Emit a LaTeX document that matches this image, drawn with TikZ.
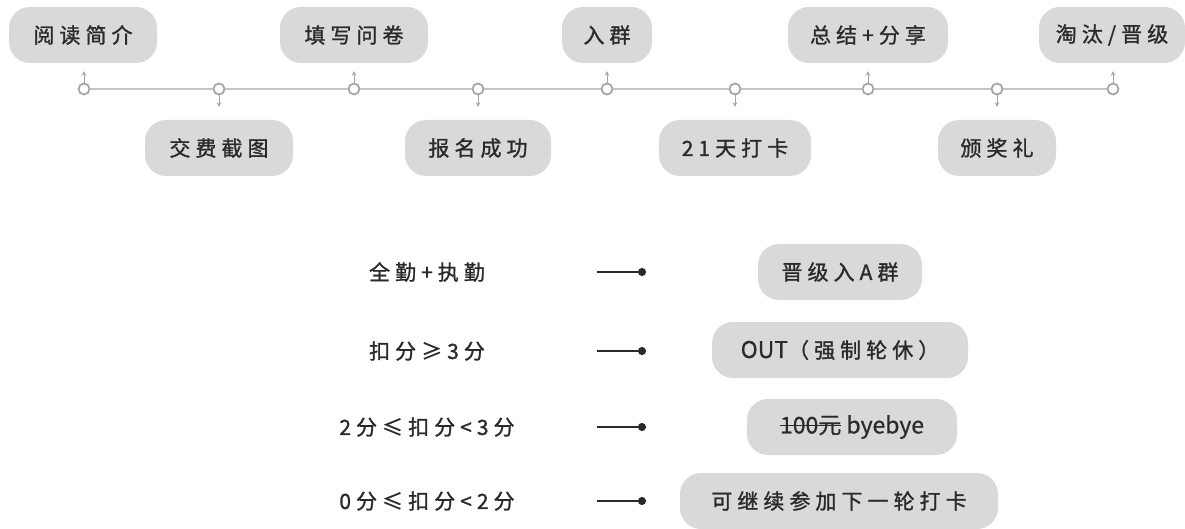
\documentclass[tikz,border=0pt]{standalone}
\usepackage{fontspec}
\usetikzlibrary{arrows.meta}
\newfontfamily\cjk[LetterSpace=24,FakeBold=1.2]{Noto Sans CJK SC}
\newfontfamily\cjkn[FakeBold=0.6]{Noto Sans CJK SC}
\definecolor{boxgray}{HTML}{D9D9D9}
\definecolor{txt}{HTML}{2A2A2A}
\definecolor{linegray}{HTML}{C4C4C4}
\definecolor{dotgray}{HTML}{A6A6A6}
\newcommand\strk[1]{\setbox0\hbox{#1}\rlap{\rule[0.33em]{\wd0}{0.8pt}}\box0\relax}
\begin{document}
\begin{tikzpicture}[x=1pt,y=-1pt,
  pill/.style={fill=boxgray, rounded corners=21pt, minimum height=56pt, inner sep=0pt,
    font=\fontsize{21}{25}\selectfont\cjk, text=txt},
  cond/.style={font=\fontsize{21}{25}\selectfont\cjk, text=txt, inner sep=0pt},
  dot/.style={circle, draw=dotgray, line width=1.8pt, fill=white, minimum size=11pt, inner sep=0pt},
  tl/.style={draw=linegray, line width=2.4pt},
  stem/.style={draw=dotgray, line width=1pt, -{Stealth[length=4.5pt,width=4.5pt]}},
  res/.style={line width=2.4pt, draw=txt, -{Circle[length=8pt,width=8pt]}}
]
\useasboundingbox (0,0) rectangle (1185,529);

% timeline dots
\node[dot] (d1) at (84,89) {};
\node[dot] (d2) at (219,89) {};
\node[dot] (d3) at (354,89) {};
\node[dot] (d4) at (478,89) {};
\node[dot] (d5) at (607,89) {};
\node[dot] (d6) at (735,89) {};
\node[dot] (d7) at (868,89) {};
\node[dot] (d8) at (997,89) {};
\node[dot] (d9) at (1113,89) {};
\foreach \a/\b in {d1/d2,d2/d3,d3/d4,d4/d5,d5/d6,d6/d7,d7/d8,d8/d9}
  \draw[tl] (\a) -- (\b);

% top boxes
\node[pill, minimum width=148pt] (b1) at (83,35) {阅读简介};
\node[pill, minimum width=148pt] (b3) at (354,35) {填写问卷};
\node[pill, minimum width=90pt]  (b5) at (607,35) {入群};
\node[pill, minimum width=160pt] (b7) at (868,35) {总结+分享};
\node[pill, minimum width=146pt] (b9) at (1112,35) {淘汰/晋级};
% bottom boxes
\node[pill, minimum width=148pt] (b2) at (219,148) {交费截图};
\node[pill, minimum width=146pt] (b4) at (478,148) {报名成功};
\node[pill, minimum width=152pt] (b6) at (735,148) {21天打卡};
\node[pill, minimum width=118pt] (b8) at (997,148) {颁奖礼};

% stems
\foreach \d/\b in {d1/b1,d3/b3,d5/b5,d7/b7,d9/b9}
  \draw[stem, shorten >=8pt] (\d.north) -- (\d.north |- \b.south);
\foreach \d/\b in {d2/b2,d4/b4,d6/b6,d8/b8}
  \draw[stem, shorten >=13pt] (\d.south) -- (\d.south |- \b.north);

% conditions
\node[cond] (c1) at (427,272) {全勤+执勤};
\node[cond] (c2) at (427,351) {扣分≥3分};
\node[cond] (c3) at (427,427) {2分≤扣分<3分};
\node[cond] (c4) at (427,501) {0分≤扣分<2分};

% results
\node[pill, minimum width=164pt] (r1) at (840,272) {晋级入A群};
\node[pill, minimum width=256pt] (r2) at (840,350) {{\fontsize{23}{27}\selectfont\cjkn OUT}（强制轮休）};
\node[pill, minimum width=210pt] (r3) at (852,427) {\fontsize{23}{27}\selectfont\cjkn\strk{100元} byebye};
\node[pill, minimum width=318pt] (r4) at (839,501) {可继续参加下一轮打卡};

% arrows
\foreach \i/\y in {1/272,2/351,3/427,4/501}{
  \coordinate (s\i) at (597,\y);
  \coordinate (e\i) at (646,\y);
  \draw[res] (s\i) -- (e\i);
}
\end{tikzpicture}
\end{document}
